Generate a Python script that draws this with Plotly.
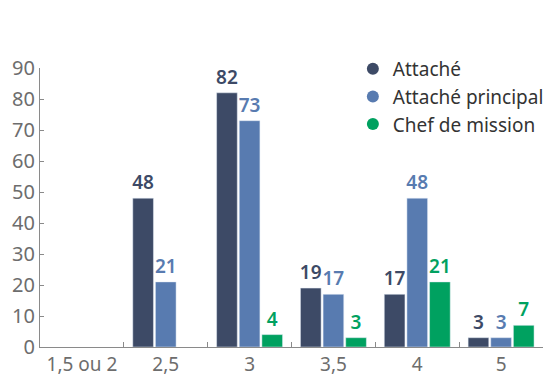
import plotly.graph_objects as go

categories = ["1,5 ou 2", "2,5", "3", "3,5", "4", "5"]
attache = [None, 48, 82, 19, 17, 3]
attache_principal = [None, 21, 73, 17, 48, 3]
chef_de_mission = [None, None, 4, 3, 21, 7]

series = [
    ("Attaché", attache, "#3d4a66"),
    ("Attaché principal", attache_principal, "#587bb0"),
    ("Chef de mission", chef_de_mission, "#00a160"),
]

FONT = "Noto Sans"
fig = go.Figure()

for name, values, color in series:
    fig.add_trace(go.Bar(
        x=categories, y=values, name=name, marker_color=color,
        text=[("" if v is None else str(v)) for v in values],
        textposition="outside", cliponaxis=False, constraintext="none",
        textfont=dict(color=color, size=19, family=FONT, weight=600),
        showlegend=False,
    ))

# legend entries drawn as round markers
for name, values, color in series:
    fig.add_trace(go.Scatter(
        x=[None], y=[None], mode="markers", name=name,
        marker=dict(symbol="circle", size=15, color=color),
    ))

fig.update_layout(
    width=551, height=376,
    margin=dict(l=40, r=2, t=68, b=29),
    paper_bgcolor="white", plot_bgcolor="white",
    barmode="group", bargap=0.19, bargroupgap=0.087,
    font=dict(family=FONT, color="#6d6d6d"),
    legend=dict(
        x=0.622, y=1.065, xanchor="left", yanchor="top",
        font=dict(size=19, color="#333333", family=FONT),
        itemsizing="constant", tracegroupgap=0,
        bgcolor="rgba(0,0,0,0)",
    ),
    xaxis=dict(
        showline=True, linecolor="#8a8a8a", linewidth=1, automargin=False,
        ticks="inside", tickson="boundaries", ticklen=5, tickcolor="#8a8a8a",
        tickfont=dict(size=19, color="#6d6d6d"),
        showgrid=False,
    ),
    yaxis=dict(
        range=[0, 90], dtick=10, showline=True, automargin=False,
        linewidth=1, linecolor="#8a8a8a", ticks="inside", ticklen=4,
        tickcolor="#8a8a8a", tickfont=dict(size=20, color="#6d6d6d"),
        showgrid=False, zeroline=False,
    ),
)

fig.write_html("out.html")
